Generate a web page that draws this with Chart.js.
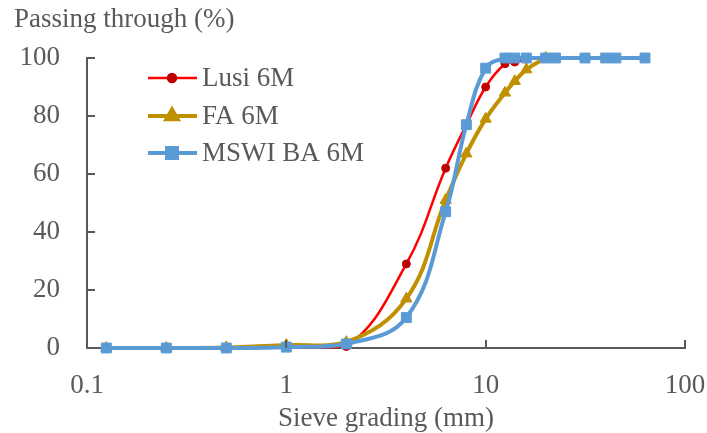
<!DOCTYPE html>
<html>
<head>
<meta charset="utf-8">
<script src="https://cdn.jsdelivr.net/npm/chart.js@4.4.1/dist/chart.umd.min.js"></script>
<style>
  html, body { margin: 0; padding: 0; background: #ffffff; }
  #wrap { width: 707px; height: 433px; }
</style>
</head>
<body>
<div id="wrap"><canvas id="gradingChart" width="707" height="433"></canvas></div>
<script>
// sieve sizes (mm) and % passing for each material
const sieveSizes = [0.125, 0.25, 0.5, 1, 2, 4, 6.3, 8, 10, 12.5, 14, 16, 20, 22.4, 31.5, 40, 45, 63];
const lusi6M = [0, 0, 0, 0.3, 0.5, 29, 62, 77, 90, 98, 98.6, 99.6];
const fa6M = [0, 0, 0.2, 1, 2, 17, 51, 67, 79, 88, 92, 96, 100];
const mswi6M = [0, 0, 0, 0.3, 1.4, 10.5, 47, 77, 96.5, 100, 100, 100, 100, 100, 100, 100, 100, 100];
const xTickValues = [0.1, 1, 10, 100];
const yTickValues = [0, 20, 40, 60, 80, 100];

const textColor = '#595959';
const fontFamily = '"Liberation Serif", "Times New Roman", serif';
const fontSize = 27;

function toPoints(values) {
  return values.map((v, i) => ({ x: sieveSizes[i], y: v }));
}

const series = [
  { label: 'Lusi 6M', values: lusi6M, color: '#FF0000', marker: '#C00000', style: 'circle', radius: 4, width: 2.5, order: 3 },
  { label: 'FA 6M', values: fa6M, color: '#BF9000', marker: '#BF9000', style: 'triangle', radius: 6.5, width: 4, order: 2 },
  { label: 'MSWI BA 6M', values: mswi6M, color: '#5B9BD5', marker: '#5B9BD5', style: 'rect', radius: 7, width: 4, order: 1 }
];

// ticks drawn inwards, y title and the in-plot legend
const extrasPlugin = {
  id: 'extras',
  afterDatasetsDraw(chart) {
    const ctx = chart.ctx;
    const x = chart.scales.x;
    const y = chart.scales.y;
    const area = chart.chartArea;
    ctx.save();
    ctx.strokeStyle = textColor;
    ctx.lineWidth = 2;
    yTickValues.forEach(v => {
      const py = Math.round(y.getPixelForValue(v));
      ctx.beginPath();
      ctx.moveTo(area.left, py);
      ctx.lineTo(area.left + 8, py);
      ctx.stroke();
    });
    xTickValues.forEach(v => {
      const px = Math.round(x.getPixelForValue(v));
      ctx.beginPath();
      ctx.moveTo(px, area.bottom);
      ctx.lineTo(px, area.bottom - 8);
      ctx.stroke();
    });

    ctx.fillStyle = textColor;
    ctx.font = fontSize + 'px ' + fontFamily;
    ctx.textAlign = 'left';
    ctx.textBaseline = 'alphabetic';
    ctx.fillText('Passing through (%)', 14, 27);

    // legend
    const rows = [78, 116, 153];
    series.forEach((s, i) => {
      const ly = rows[i];
      ctx.strokeStyle = s.color;
      ctx.lineWidth = s.width;
      ctx.beginPath();
      ctx.moveTo(148, ly);
      ctx.lineTo(197, ly);
      ctx.stroke();
      ctx.fillStyle = s.marker;
      ctx.strokeStyle = s.marker;
      Chart.helpers.drawPoint(ctx, { pointStyle: s.style, radius: s.radius, rotation: 0, borderWidth: 1 }, 172, ly);
      ctx.fillStyle = textColor;
      ctx.fillText(s.label, 202, ly + 8);
    });
    ctx.restore();
  }
};

const ctx = document.getElementById('gradingChart').getContext('2d');

const gradingChart = new Chart(ctx, {
  type: 'line',
  data: {
    datasets: series.map(s => ({
      label: s.label,
      data: toPoints(s.values),
      borderColor: s.color,
      backgroundColor: s.marker,
      pointBackgroundColor: s.marker,
      pointBorderColor: s.marker,
      pointStyle: s.style,
      pointRadius: s.radius,
      pointBorderWidth: 1,
      borderWidth: s.width,
      tension: 0.4,
      fill: false,
      clip: false,
      order: s.order
    }))
  },
  options: {
    responsive: false,
    animation: false,
    events: [],
    layout: {
      padding: { top: 58, right: 22, left: 0, bottom: 0 }
    },
    plugins: {
      legend: { display: false },
      tooltip: { enabled: false }
    },
    scales: {
      x: {
        type: 'logarithmic',
        min: 0.1,
        max: 100,
        afterFit: (scale) => {
          scale.height = 85;
          scale.paddingLeft = 0;
          scale.paddingRight = 0;
        },
        afterBuildTicks: (scale) => {
          scale.ticks = xTickValues.map(v => ({ value: v }));
        },
        ticks: {
          color: textColor,
          font: { family: fontFamily, size: fontSize },
          padding: 22,
          maxRotation: 0,
          autoSkip: false,
          callback: (value) => String(value)
        },
        grid: { display: false, drawTicks: false },
        border: { display: true, color: textColor, width: 2 },
        title: {
          display: true,
          text: 'Sieve grading (mm)',
          color: textColor,
          font: { family: fontFamily, size: fontSize },
          padding: { top: 0, bottom: -2 }
        }
      },
      y: {
        min: 0,
        max: 100,
        afterFit: (scale) => {
          scale.width = 87;
          scale.paddingTop = 0;
          scale.paddingBottom = 0;
        },
        afterBuildTicks: (scale) => {
          scale.ticks = yTickValues.map(v => ({ value: v }));
        },
        ticks: {
          color: textColor,
          font: { family: fontFamily, size: fontSize },
          padding: 27
        },
        grid: { display: false, drawTicks: false },
        border: { display: true, color: textColor, width: 2 }
      }
    }
  },
  plugins: [extrasPlugin]
});
</script>
</body>
</html>
